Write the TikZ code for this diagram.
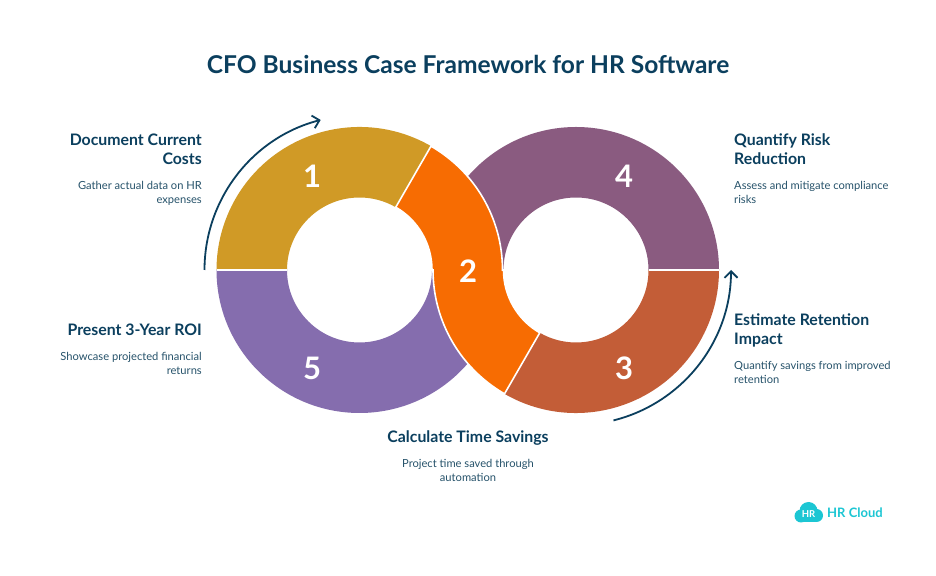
\documentclass[tikz,border=0pt]{standalone}
\usepackage{fontspec}
\setmainfont{Lato}
\usetikzlibrary{arrows.meta,calc}
\definecolor{ink}{HTML}{0B3F5E}
\definecolor{body}{HTML}{27536B}
\definecolor{cA}{HTML}{D09A26}
\definecolor{cB}{HTML}{F76C02}
\definecolor{cC}{HTML}{C35D37}
\definecolor{cD}{HTML}{8A5B80}
\definecolor{cE}{HTML}{856DAE}
\definecolor{teal}{HTML}{1CC6D3}
\tikzset{
  x=1pt,y=1pt,
  titletext/.style={text=ink,font=\bfseries\fontsize{24.55}{30}\selectfont,anchor=center,inner sep=0},
  headtext/.style={text=ink,font=\bfseries\fontsize{15.85}{19}\selectfont,inner sep=0},
  desctext/.style={text=body,font=\fontsize{11.15}{14}\selectfont,inner sep=0},
  numtext/.style={text=white,font=\bfseries\fontsize{31}{31}\selectfont,inner sep=0,anchor=center},
  sep/.style={draw=white,line width=1.6pt},
  flow/.style={draw=ink,line width=1.8pt,-{Straight Barb[length=6.5pt,width=13pt,line width=1.8pt]}}
}
\def\Ro{143pt}
\def\Ri{72.5pt}
% centre, start angle, end angle, colour
\newcommand{\ringpart}[4]{%
  \fill[#4] ($(#1)+(#2:\Ro)$) arc[start angle=#2,end angle=#3,radius=\Ro]
    -- ($(#1)+(#3:\Ri)$) arc[start angle=#3,end angle=#2,radius=\Ri] -- cycle;}
\begin{document}
\begin{tikzpicture}
\useasboundingbox (0,0) rectangle (936,575);
\fill[white] (0,0) rectangle (936,575);
\coordinate (L) at (359.5,305);
\coordinate (R) at (576,305);
\ringpart{R}{0}{180}{cD}
\ringpart{R}{240}{360}{cC}
\ringpart{L}{60}{180}{cA}
\ringpart{L}{180}{360}{cE}
% separators
\draw[sep] ($(L)+(180:\Ro)$) -- ($(L)+(180:\Ri)$);
\draw[sep] ($(R)+(0:\Ro)$) -- ($(R)+(0:\Ri)$);
% S-shaped segment 2
\filldraw[fill=cB,sep] ($(L)+(60:\Ro)$) arc[start angle=60,end angle=0,radius=\Ro]
  -- ($(R)+(180:\Ri)$) arc[start angle=180,end angle=240,radius=\Ri]
  -- ($(R)+(240:\Ro)$) arc[start angle=240,end angle=180,radius=\Ro]
  -- ($(L)+(0:\Ri)$) arc[start angle=0,end angle=60,radius=\Ri] -- cycle;
% flow arrows
\draw[flow] ($(L)+(180:155pt)$) arc[start angle=180,end angle=104.5,radius=155pt];
\draw[flow] ($(R)+(-76:155pt)$) arc[start angle=-76,end angle=0,radius=155pt];
% numbers
\node[numtext] (n1) at (312,398.5) {1};
\node[numtext] (n2) at (468,304) {2};
\node[numtext] (n3) at (624,207) {3};
\node[numtext] (n4) at (624,399) {4};
\node[numtext] (n5) at (312,207) {5};
% title
\node[titletext] (title) at (468,511) {CFO Business Case Framework for HR Software};
% left labels
\node[headtext,align=right,anchor=north east] (h1) at (202,441) {Document Current\\Costs};
\node[desctext,align=right,anchor=north east] (d1) at (202,393.5) {Gather actual data on HR\\expenses};
\node[headtext,align=right,anchor=north east] (h5) at (202,251) {Present 3-Year ROI};
\node[desctext,align=right,anchor=north east] (d5) at (202,222.5) {Showcase projected financial\\returns};
% right labels
\node[headtext,align=left,anchor=north west] (h4) at (734,441) {Quantify Risk\\Reduction};
\node[desctext,align=left,anchor=north west] (d4) at (734,393.5) {Assess and mitigate compliance\\risks};
\node[headtext,align=left,anchor=north west] (h3) at (734,261) {Estimate Retention\\Impact};
\node[desctext,align=left,anchor=north west] (d3) at (734,213.5) {Quantify savings from improved\\retention};
% bottom label
\node[headtext,align=center,anchor=north] (h2) at (468,144) {Calculate Time Savings};
\node[desctext,align=center,anchor=north] (d2) at (468,115.5) {Project time saved through\\automation};
% logo
\fill[teal] (801,59) circle (6.5);
\fill[teal] (808.5,64) circle (9);
\fill[teal] (816.5,59.5) circle (6.5);
\fill[teal] (801,52.5) rectangle (816.5,62);
\node[inner sep=0,text=white,font=\bfseries\fontsize{9.5}{9.5}\selectfont] (logoa) at (808.5,61) {HR};
\node[inner sep=0,text=teal,font=\bfseries\fontsize{13}{13}\selectfont,anchor=west] (logob) at (827,62) {HR Cloud};
\end{tikzpicture}
\end{document}
